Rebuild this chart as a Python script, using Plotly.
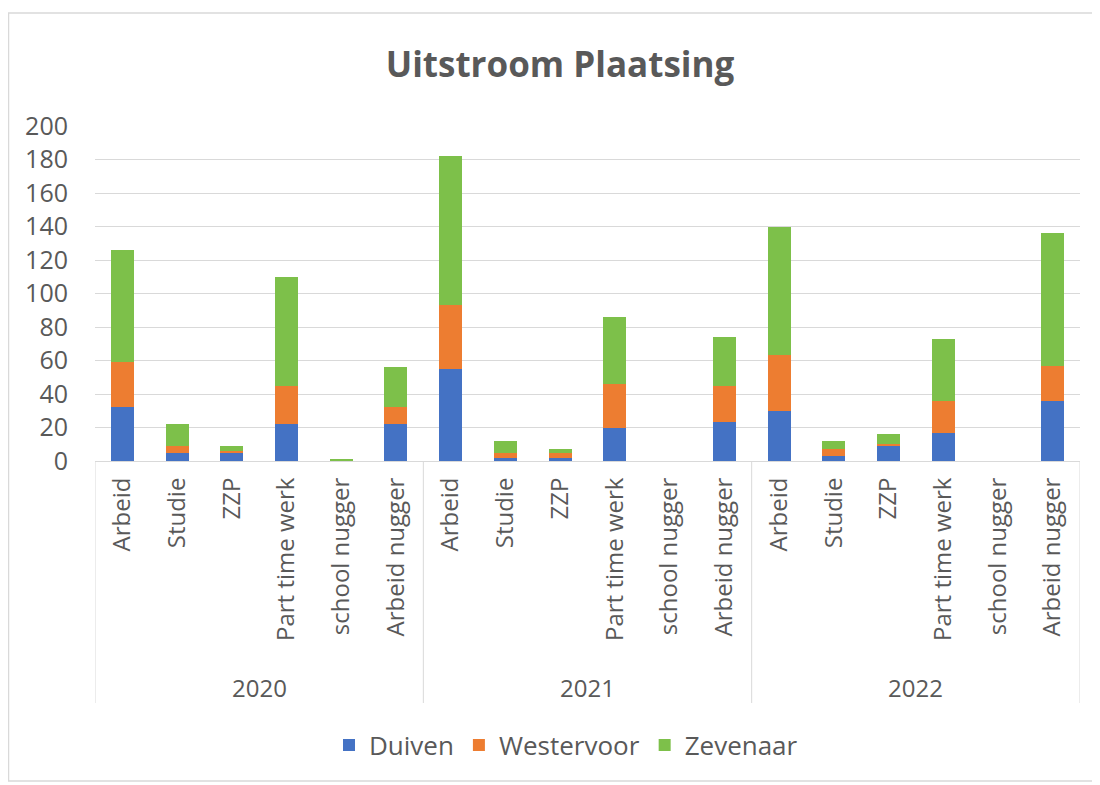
import plotly.graph_objects as go

years = ["2020", "2021", "2022"]
categories = ["Arbeid", "Studie", "ZZP", "Part time werk", "school nugger", "Arbeid nugger"]
duiven = [32, 5, 5, 22, 0, 22, 55, 2, 2, 20, 0, 23, 30, 3, 9, 17, 0, 36]
westervoor = [27, 4, 1, 23, 0, 10, 38, 3, 3, 26, 0, 22, 33, 4, 1, 19, 0, 21]
zevenaar = [67, 13, 3, 65, 1, 24, 89, 7, 2, 40, 0, 29, 77, 5, 6, 37, 0, 79]
y_ticks = [0, 20, 40, 60, 80, 100, 120, 140, 160, 180, 200]

FONT = "Open Sans"
GREY = "#595959"
LINE = "#D9D9D9"

n_cat = len(categories)
labels = categories * len(years)
xpos = list(range(len(labels)))

fig = go.Figure()
for name, vals, col in [("Duiven", duiven, "#4472C4"),
                        ("Westervoor", westervoor, "#ED7D31"),
                        ("Zevenaar", zevenaar, "#7DC04A")]:
    fig.add_trace(go.Bar(x=xpos, y=vals, name=name,
                         marker=dict(color=col, line=dict(width=0))))

W, H = 1092, 777
L, R, T, B = 87, 20, 118, 324
PW, PH = W - L - R, H - T - B

fig.update_layout(
    barmode="stack",
    bargap=0.58,
    width=W, height=H,
    paper_bgcolor="white", plot_bgcolor="white",
    margin=dict(l=L, r=R, t=T, b=B, pad=0),
    font=dict(family=FONT, color=GREY, size=24),
    title=dict(text="<b>Uitstroom Plaatsing</b>", xref="container", x=552 / W, xanchor="center",
               yref="container", y=1 - 57 / H, yanchor="middle",
               font=dict(family=FONT, size=35, color=GREY)),
    legend=dict(orientation="h", x=(558 - L) / PW, xanchor="center",
                y=(453 - 737) / PH, yanchor="middle",
                font=dict(family=FONT, size=26, color=GREY),
                traceorder="normal", itemwidth=30),
    showlegend=True,
)
fig.update_yaxes(range=[0, 200], tickvals=y_ticks, showgrid=True, gridcolor=LINE,
                 gridwidth=1, zeroline=False, showline=False, ticks="",
                 tickfont=dict(family=FONT, size=25, color=GREY), ticklabelstandoff=26)
fig.update_xaxes(range=[-0.5, len(labels) - 0.5], tickvals=xpos, ticktext=labels,
                 tickangle=-90, showline=True, linecolor=LINE, linewidth=1,
                 ticks="", showgrid=False, zeroline=False, ticklabelstandoff=6,
                 tickfont=dict(family=FONT, size=24, color=GREY))

# year group labels and dividers
for i, yr in enumerate(years):
    fig.add_annotation(x=i * n_cat + (n_cat - 1) / 2, xref="x", y=(453 - 679) / PH, yref="paper",
                       text=yr, showarrow=False, xanchor="center", yanchor="middle",
                       font=dict(family=FONT, size=24, color=GREY))
for i in range(len(years) + 1):
    xd = i * n_cat - 0.5
    fig.add_shape(type="line", xref="x", yref="paper", x0=xd, x1=xd, y0=0, y1=(453 - 695) / PH,
                  line=dict(color=LINE, width=1))

fig.add_shape(type="rect", xref="paper", yref="paper",
              x0=(0.5 - L) / PW, x1=(1085 - L) / PW,
              y0=(453 - 773) / PH, y1=(453 - 5) / PH,
              line=dict(color=LINE, width=1.5), layer="below")

fig.write_html("out.html")
